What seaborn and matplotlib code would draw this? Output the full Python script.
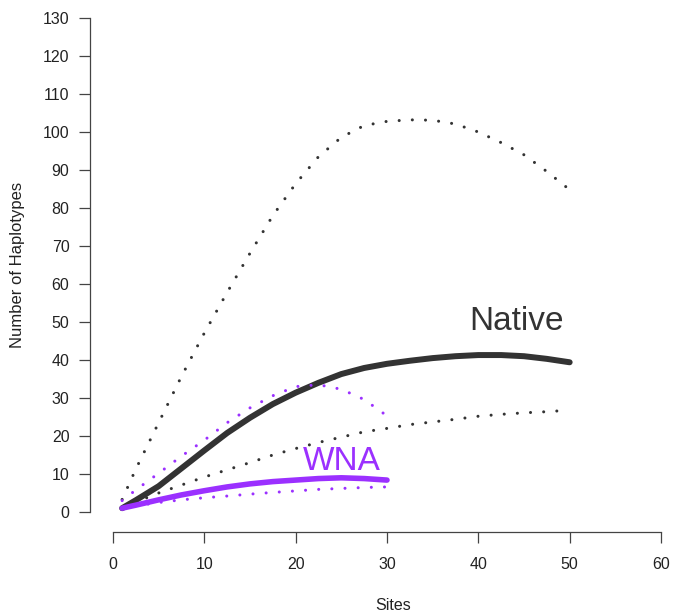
import pandas as pd
import seaborn as sns
import matplotlib.pyplot as plt

# ----------------------------
# DATA
# ----------------------------
native_sites = [1, 2.5, 5, 7.5, 10, 12.5, 15, 17.5, 20, 22.5, 25, 27.5, 30,
                32.5, 35, 37.5, 40, 42.5, 45, 47.5, 50]
native_mean = [1, 3.1, 6.8, 11.5, 16.2, 20.8, 24.8, 28.4, 31.4, 34.0, 36.3, 37.9, 39.0,
               39.8, 40.5, 41.0, 41.3, 41.3, 41.0, 40.3, 39.4]
native_upper = [3.3, 11.3, 23.5, 35.7, 47.1, 57.8, 68.1, 78.0, 86.4, 93.5, 98.6, 101.7, 102.8,
                103.2, 103.1, 102.1, 100.0, 97.2, 94.0, 89.6, 84.8]
native_lower = [1.2, 2.6, 5.0, 7.1, 9.2, 11.1, 13.0, 15.0, 16.7, 18.3, 19.7, 21.1, 22.0,
                23.0, 23.7, 24.4, 25.2, 25.7, 26.1, 26.4, 26.8]

wna_sites = [1, 2.5, 5, 7.5, 10, 12.5, 15, 17.5, 20, 22.5, 25, 27.5, 30]
wna_mean = [1, 1.8, 3.2, 4.5, 5.6, 6.6, 7.4, 8.0, 8.4, 8.8, 9.0, 8.8, 8.4]
wna_upper = [3.0, 5.8, 10.2, 14.7, 18.9, 23.5, 27.4, 30.6, 33.0, 33.5, 32.3, 29.6, 25.3]
wna_lower = [1, 1.6, 2.5, 3.2, 3.75, 4.2, 4.7, 5.15, 5.55, 5.95, 6.2, 6.45, 6.6]

x_ticks = [0, 10, 20, 30, 40, 50, 60]
y_ticks = list(range(0, 131, 10))

native_col = "#333333"
wna_col = "#9B30FF"

# ----------------------------
# STYLE
# ----------------------------
sns.set_style("ticks")
plt.rcParams["font.family"] = ["Liberation Sans", "DejaVu Sans"]

fig = plt.figure(figsize=(6.87, 6.13), dpi=100)
ax = fig.add_axes([113 / 687, 101 / 613, 548 / 687, 494 / 613])

dotted = dict(linestyle=(0, (0.01, 4.3)), dash_capstyle="round", linewidth=2.2)

# ----------------------------
# NATIVE
# ----------------------------
sns.lineplot(x=native_sites, y=native_upper, color=native_col, ax=ax, **dotted)
sns.lineplot(x=native_sites, y=native_lower, color=native_col, ax=ax, **dotted)
sns.lineplot(x=native_sites, y=native_mean, color=native_col, linewidth=4.3,
             solid_capstyle="round", solid_joinstyle="round", ax=ax)

# ----------------------------
# WNA
# ----------------------------
sns.lineplot(x=wna_sites, y=wna_upper, color=wna_col, ax=ax, **dotted)
sns.lineplot(x=wna_sites, y=wna_lower, color=wna_col, ax=ax, **dotted)
sns.lineplot(x=wna_sites, y=wna_mean, color=wna_col, linewidth=4.0,
             solid_capstyle="round", solid_joinstyle="round", ax=ax)

ax.text(44.2, 50.1, "Native", color=native_col, fontsize=24, ha="center", va="center")
ax.text(25.0, 13.2, "WNA", color=wna_col, fontsize=24, ha="center", va="center")

# ----------------------------
# AXES (R-like detached axes)
# ----------------------------
ax.set_xlim(0, 60)
ax.set_ylim(0, 130)
ax.set_xticks(x_ticks)
ax.set_yticks(y_ticks)
ax.tick_params(axis="both", direction="out", length=7.8, width=0.9,
               color="#444444", labelsize=11.5, labelcolor="#222222")
ax.tick_params(axis="x", pad=10)
ax.tick_params(axis="y", pad=7)

for side in ["top", "right"]:
    ax.spines[side].set_visible(False)
ax.spines["left"].set_position(("outward", 16.6))
ax.spines["bottom"].set_position(("outward", 14.4))
ax.spines["left"].set_bounds(0, 130)
ax.spines["bottom"].set_bounds(0, 60)
for side in ["left", "bottom"]:
    ax.spines[side].set_color("#444444")
    ax.spines[side].set_linewidth(0.9)

ax.set_xlabel("Sites", fontsize=11.5, color="#222222")
ax.set_ylabel("Number of Haplotypes", fontsize=12, color="#222222")
ax.xaxis.set_label_coords(0.511, -0.174)
ax.yaxis.set_label_coords(-0.161, 0.5)

fig.savefig("out.png", dpi=100)
